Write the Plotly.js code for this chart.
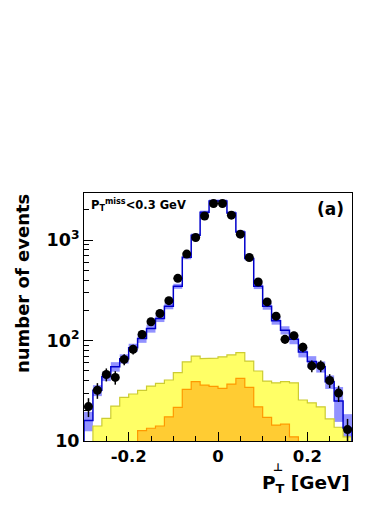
<!DOCTYPE html>
<html>
<head>
<meta charset="utf-8">
<script src="https://cdn.plot.ly/plotly-3.0.1.min.js"></script>
<style>
  body { margin: 0; padding: 0; background: #fff; }
  #chart { width: 392px; height: 508px; }
</style>
</head>
<body>
<div id="chart"></div>
<script>
// bin centres, width 0.02 GeV
var binCenters = [-0.29, -0.27, -0.25, -0.23, -0.21, -0.19, -0.17, -0.15, -0.13, -0.11,
                  -0.09, -0.07, -0.05, -0.03, -0.01, 0.01, 0.03, 0.05, 0.07, 0.09,
                  0.11, 0.13, 0.15, 0.17, 0.19, 0.21, 0.23, 0.25, 0.27, 0.29];
var binWidth = 0.02;

// data points
var dataCounts = [22, 32, 46, 43, 65, 82, 115, 154, 186, 250,
                  417, 727, 1064, 1740, 2318, 2318, 1775, 1148, 673, 383,
                  243, 175, 103, 112, 86, 56, 56, 40, 30, 13];
var dataErr = [4.7, 5.7, 6.8, 6.6, 8.1, 9.1, 10.7, 12.4, 13.6, 15.8,
               20.4, 27, 32.6, 41.7, 48.1, 48.1, 42.1, 33.9, 25.9, 19.6,
               15.6, 13.2, 10.1, 10.6, 9.3, 7.5, 7.5, 6.3, 5.5, 3.6];

// simulation total and its uncertainty band
var mcTotal = [16, 32, 44, 55, 66, 85, 105, 132, 166, 220,
               348, 675, 1120, 1900, 2450, 2450, 1870, 1210, 657, 348,
               220, 158, 127, 103, 77, 62, 55, 39, 25, 13.5];
var mcErr = [3.5, 4, 4.5, 6, 7, 8, 10, 12, 13, 15,
             20, 30, 45, 70, 90, 90, 70, 45, 30, 22,
             17, 14, 12, 11, 9, 8, 7, 6, 9.5, 5];

// background components (0 = empty bin)
var yellowBkg = [0, 14.1, 16.8, 22.3, 27.2, 29.4, 32, 35.2, 37.5, 40.5,
                 47.9, 61.5, 70, 66, 67, 69, 72, 76, 62.5, 49.8,
                 39.5, 38, 39, 38, 25.6, 24, 21.9, 16.6, 13.7, 11];
var orangeBkg = [0, 0, 0, 0, 0, 0, 12.7, 13.4, 14.1, 17.4,
                 21.6, 32.7, 39, 36, 35, 33.4, 36.9, 42, 34.2, 21.9,
                 17.2, 14.4, 14.7, 11, 0, 0, 0, 0, 0, 0];

var FLOOR = 1; // below the visible range on the log axis
var FONT = 'DejaVu Sans, Liberation Sans, Arial, sans-serif';

// closed step outline of a histogram, from the floor up and back
function stepPath(vals) {
  var xs = [], ys = [];
  xs.push(binCenters[0] - binWidth / 2); ys.push(FLOOR);
  for (var i = 0; i < vals.length; i++) {
    var v = vals[i] > 0 ? vals[i] : FLOOR;
    xs.push(binCenters[i] - binWidth / 2); ys.push(v);
    xs.push(binCenters[i] + binWidth / 2); ys.push(v);
  }
  xs.push(binCenters[binCenters.length - 1] + binWidth / 2); ys.push(FLOOR);
  return {x: xs, y: ys};
}

var yPath = stepPath(yellowBkg);
var oPath = stepPath(orangeBkg);
var mPath = stepPath(mcTotal);

var bandBase = [], bandSize = [];
for (var i = 0; i < mcTotal.length; i++) {
  bandBase.push(mcTotal[i] - mcErr[i]);
  bandSize.push(2 * mcErr[i]);
}

var traces = [
  {
    type: 'scatter', mode: 'lines', x: yPath.x, y: yPath.y,
    fill: 'toself', fillcolor: '#ffff66',
    line: {color: '#cccc33', width: 1.2}, hoverinfo: 'skip'
  },
  {
    type: 'scatter', mode: 'lines', x: oPath.x, y: oPath.y,
    fill: 'toself', fillcolor: '#ffcc33',
    line: {color: '#ff9900', width: 1.2}, hoverinfo: 'skip'
  },
  {
    type: 'bar', x: binCenters, y: bandSize, base: bandBase, width: binWidth,
    marker: {color: 'rgba(110,110,255,0.75)', line: {width: 0}},
    hoverinfo: 'skip'
  },
  {
    type: 'scatter', mode: 'lines', x: mPath.x, y: mPath.y,
    line: {color: '#0000cc', width: 1.5}, hoverinfo: 'skip'
  },
  {
    type: 'scatter', mode: 'markers', x: binCenters, y: dataCounts,
    marker: {color: 'black', size: 9},
    error_y: {type: 'data', array: dataErr, color: 'black', thickness: 1.5, width: 0}
  }
];

var layout = {
  width: 392, height: 508,
  margin: {l: 84, r: 40, t: 193, b: 67},
  paper_bgcolor: 'white', plot_bgcolor: 'white',
  showlegend: false,
  barmode: 'overlay',
  font: {family: FONT, color: 'black'},
  xaxis: {
    range: [-0.3, 0.3],
    tickmode: 'array', tickvals: [-0.2, 0, 0.2], ticktext: ['-0.2', '0', '0.2'],
    ticks: 'inside', ticklen: 9, tickcolor: 'black',
    minor: {tickmode: 'linear', tick0: 0, dtick: 0.05, ticks: 'inside', ticklen: 5, tickcolor: 'black'},
    tickfont: {family: FONT, size: 16.5, weight: 'bold'},
    showline: true, mirror: true, linecolor: 'black', linewidth: 1,
    showgrid: false, zeroline: false
  },
  yaxis: {
    type: 'log', range: [1, 3.47],
    tickmode: 'array', tickvals: [10, 100, 1000],
    ticktext: ['10', '10<sup>2</sup>', '10<sup>3</sup>'],
    ticks: 'inside', ticklen: 9, tickcolor: 'black',
    minor: {tickmode: 'array',
            tickvals: [20, 30, 40, 50, 60, 70, 80, 90, 200, 300, 400, 500, 600, 700, 800, 900, 2000],
            ticks: 'inside', ticklen: 5, tickcolor: 'black'},
    tickfont: {family: FONT, size: 17.5, weight: 'bold'},
    showline: true, mirror: true, linecolor: 'black', linewidth: 1,
    showgrid: false, zeroline: false
  },
  annotations: [
    {
      xref: 'paper', yref: 'paper', x: 0.019, y: 0.952, xanchor: 'left', yanchor: 'middle',
      text: 'P<sub>T</sub><sup>miss</sup>&lt;0.3 GeV', showarrow: false,
      font: {family: FONT, size: 11.5, weight: 'bold'}
    },
    {
      xref: 'paper', yref: 'paper', x: 0.978, y: 0.935, xanchor: 'right', yanchor: 'middle',
      text: '(a)', showarrow: false,
      font: {family: FONT, size: 17, weight: 'bold'}
    },
    {
      xref: 'paper', yref: 'paper', x: 1.0, y: -0.173, xanchor: 'right', yanchor: 'middle',
      text: 'P<sub>T</sub> [GeV]', showarrow: false,
      font: {family: FONT, size: 18.5, weight: 'bold'}
    },
    {
      xref: 'paper', yref: 'paper', x: (278 - 84) / 268, y: (441 - 467) / 248,
      xanchor: 'center', yanchor: 'middle',
      text: '\u22a5', showarrow: false,
      font: {family: FONT, size: 11, weight: 'bold'}
    },
    {
      xref: 'paper', yref: 'paper', x: -0.231, y: 0.633, xanchor: 'center', yanchor: 'middle',
      text: 'number of events', textangle: -90, showarrow: false,
      font: {family: FONT, size: 18, weight: 'bold'}
    }
  ]
};

Plotly.newPlot('chart', traces, layout, {displayModeBar: false, staticPlot: true});
</script>
</body>
</html>
